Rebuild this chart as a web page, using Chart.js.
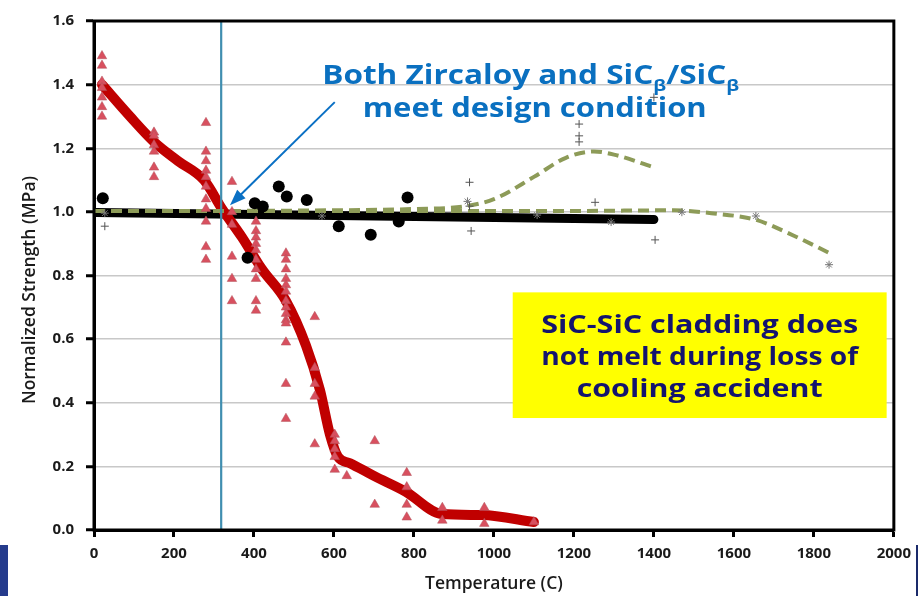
<!DOCTYPE html>
<html>
<head>
<meta charset="utf-8">
<script src="https://cdn.jsdelivr.net/npm/chart.js@4.4.0/dist/chart.umd.min.js"></script>
<style>
  html, body { margin: 0; padding: 0; background: #fff; }
  #wrap { width: 919px; height: 596px; position: relative; }
</style>
</head>
<body>
<div id="wrap"><canvas id="chart" width="919" height="596"></canvas></div>
<script>
// ========== Normalized strength vs temperature ==========

// ── Zircaloy test data (red triangles) ──
var triTemp = [
  20, 20, 20, 20, 20, 20, 20,
  150, 150, 150, 150, 150, 150,
  280, 280, 280, 280, 280, 280, 280, 280, 280, 280, 280,
  345, 345, 345, 345, 345, 345,
  405, 405, 405, 405, 405, 405, 405, 405, 405, 405,
  480, 480, 480, 480, 480, 480, 480, 480, 480, 480, 480, 480, 480, 480,
  552, 552, 552, 552, 552,
  602, 602, 602, 602, 602,
  632, 702, 702,
  782, 782, 782, 782,
  871, 871, 976, 976, 1100
];
var triStrength = [
  1.49, 1.46, 1.41, 1.39, 1.36, 1.33, 1.30,
  1.25, 1.24, 1.21, 1.19, 1.14, 1.11,
  1.28, 1.19, 1.16, 1.13, 1.11, 1.08, 1.04, 1.01, 0.97, 0.89, 0.85,
  1.095, 1.00, 0.96, 0.86, 0.79, 0.72,
  0.97, 0.94, 0.92, 0.90, 0.88, 0.85, 0.82, 0.79, 0.72, 0.69,
  0.87, 0.85, 0.82, 0.79, 0.77, 0.75, 0.72, 0.70, 0.68, 0.66, 0.65, 0.59, 0.46, 0.35,
  0.67, 0.51, 0.46, 0.42, 0.27,
  0.30, 0.28, 0.255, 0.23, 0.19,
  0.17, 0.28, 0.08,
  0.18, 0.135, 0.08, 0.04,
  0.07, 0.03, 0.07, 0.02, 0.025
];

// ── Zircaloy trend (thick red) ──
var zrTemp     = [20, 90, 150, 210, 275, 320, 370, 420, 480, 530, 565, 590, 610, 640, 700, 780, 870, 970, 1100];
var zrStrength = [1.40, 1.30, 1.22, 1.16, 1.10, 1.01, 0.92, 0.82, 0.72, 0.58, 0.44, 0.30, 0.23, 0.21, 0.17, 0.12, 0.05, 0.047, 0.025];

// ── SiC/SiC data (black circles) ──
var sicTemp     = [22, 384, 402, 422, 462, 482, 532, 612, 692, 762, 784];
var sicStrength = [1.043, 0.856, 1.027, 1.017, 1.08, 1.048, 1.037, 0.955, 0.928, 0.97, 1.045];

// ── SiC/SiC trend (thick black) ──
var sicLineTemp     = [5, 1400];
var sicLineStrength = [0.998, 0.976];

// ── Other composites (grey + and *) ──
var plusTemp     = [27, 939, 939, 943, 1213, 1213, 1213, 1253, 1403, 1400];
var plusStrength = [0.955, 1.093, 1.018, 0.94, 1.276, 1.239, 1.22, 1.03, 0.912, 1.36];
var starTemp     = [27, 570, 934, 1108, 1293, 1470, 1655, 1838];
var starStrength = [0.996, 0.987, 1.033, 0.99, 0.968, 0.999, 0.987, 0.834];

// ── Dashed trends (olive) ──
var peakTemp     = [0, 300, 600, 800, 930, 1000, 1100, 1180, 1250, 1300, 1400];
var peakStrength = [1.003, 1.003, 1.005, 1.009, 1.018, 1.04, 1.11, 1.17, 1.19, 1.18, 1.14];
var dropTemp     = [0, 400, 800, 1200, 1450, 1550, 1655, 1750, 1840];
var dropStrength = [1.003, 1.003, 1.003, 1.003, 1.005, 0.995, 0.975, 0.925, 0.87];

// ── Axis ticks ──
var xTicks = [0, 200, 400, 600, 800, 1000, 1200, 1400, 1600, 1800, 2000];
var yTicks = [0.0, 0.2, 0.4, 0.6, 0.8, 1.0, 1.2, 1.4, 1.6];

// ── Annotations (data units) ──
var designTemp = 318;
var arrowFrom = [602, 1.345];
var arrowTo = [340, 1.021];
var noteBox = [1047, 1982, 0.747, 0.352];

function pairs(xs, ys) {
  return xs.map(function(x, i) { return { x: x, y: ys[i] }; });
}

// ── 注释绘制 ──
// draws runs of text centred on cx, stretched horizontally to "width"
function drawRuns(ctx, runs, cx, baseY, size, width) {
  var total = 0;
  runs.forEach(function(r) {
    ctx.font = '700 ' + (r.sub ? size * 0.62 : size) + 'px "Open Sans"';
    r.w = ctx.measureText(r.t).width;
    total += r.w;
  });
  var sx = width / total;
  ctx.save();
  ctx.translate(cx - width / 2, baseY);
  ctx.scale(sx, 1);
  var x = 0;
  runs.forEach(function(r) {
    ctx.font = '700 ' + (r.sub ? size * 0.62 : size) + 'px "Open Sans"';
    ctx.fillText(r.t, x, r.sub ? size * 0.28 : 0);
    x += r.w;
  });
  ctx.restore();
}

var annotate = {
  id: 'annotate',
  afterDatasetsDraw: function(chart) {
    var ctx = chart.ctx, xs = chart.scales.x, ys = chart.scales.y, a = chart.chartArea;
    ctx.save();

    // design temperature line
    var vx = xs.getPixelForValue(designTemp);
    ctx.strokeStyle = '#408eb0';
    ctx.lineWidth = 2.2;
    ctx.beginPath(); ctx.moveTo(vx, a.top); ctx.lineTo(vx, a.bottom); ctx.stroke();

    // frame
    ctx.strokeStyle = '#000';
    ctx.lineWidth = 3;
    ctx.strokeRect(a.left, a.top, a.right - a.left, a.bottom - a.top);

    // arrow
    var x1 = xs.getPixelForValue(arrowFrom[0]), y1 = ys.getPixelForValue(arrowFrom[1]);
    var x2 = xs.getPixelForValue(arrowTo[0]), y2 = ys.getPixelForValue(arrowTo[1]);
    var ang = Math.atan2(y2 - y1, x2 - x1);
    ctx.strokeStyle = '#0a70c4';
    ctx.fillStyle = '#0a70c4';
    ctx.lineWidth = 2;
    ctx.beginPath();
    ctx.moveTo(x1, y1);
    ctx.lineTo(x2 - 10 * Math.cos(ang), y2 - 10 * Math.sin(ang));
    ctx.stroke();
    ctx.beginPath();
    ctx.moveTo(x2, y2);
    ctx.lineTo(x2 - 16 * Math.cos(ang) + 6 * Math.sin(ang), y2 - 16 * Math.sin(ang) - 6 * Math.cos(ang));
    ctx.lineTo(x2 - 16 * Math.cos(ang) - 6 * Math.sin(ang), y2 - 16 * Math.sin(ang) + 6 * Math.cos(ang));
    ctx.closePath(); ctx.fill();

    // blue heading
    ctx.fillStyle = '#0a70c0';
    ctx.textAlign = 'left';
    ctx.textBaseline = 'alphabetic';
    drawRuns(ctx, [
      { t: 'Both Zircaloy and SiC' }, { t: 'β', sub: true },
      { t: '/SiC' }, { t: 'β', sub: true }
    ], xs.getPixelForValue(1092), 84, 26, 417);
    drawRuns(ctx, [{ t: 'meet design condition' }], xs.getPixelForValue(1102), 117, 26, 344);

    // yellow note
    var bx1 = xs.getPixelForValue(noteBox[0]), bx2 = xs.getPixelForValue(noteBox[1]);
    var by1 = ys.getPixelForValue(noteBox[2]), by2 = ys.getPixelForValue(noteBox[3]);
    ctx.fillStyle = '#ffff00';
    ctx.fillRect(bx1, by1, bx2 - bx1, by2 - by1);
    ctx.fillStyle = '#14146e';
    var cx = (bx1 + bx2) / 2;
    drawRuns(ctx, [{ t: 'SiC-SiC cladding does' }], cx, by1 + 41, 24.5, 317);
    drawRuns(ctx, [{ t: 'not melt during loss of' }], cx, by1 + 73, 24.5, 317);
    drawRuns(ctx, [{ t: 'cooling accident' }], cx, by1 + 105, 24.5, 246);

    // y axis title
    ctx.save();
    ctx.translate(30, 290);
    ctx.rotate(-Math.PI / 2);
    ctx.fillStyle = '#1a1a1a';
    ctx.textAlign = 'center';
    ctx.textBaseline = 'middle';
    ctx.font = '600 17.5px "Open Sans"';
    ctx.fillText('Normalized Strength (MPa)', 0, 0);
    ctx.restore();

    // slide edges
    ctx.fillStyle = '#253b8c';
    ctx.fillRect(0, 545, 8, 51);
    ctx.strokeStyle = '#1a2a6a';
    ctx.lineWidth = 2;
    ctx.beginPath(); ctx.moveTo(917, 545); ctx.lineTo(917, 596); ctx.stroke();
    ctx.restore();
  }
};

// ── 图表 ──
var ctx = document.getElementById('chart').getContext('2d');
new Chart(ctx, {
  type: 'scatter',
  data: {
    datasets: [
      { label: 'plus', data: pairs(plusTemp, plusStrength), pointStyle: 'cross',
        pointRadius: 4, borderColor: '#555', borderWidth: 1, showLine: false },
      { label: 'star', data: pairs(starTemp, starStrength), pointStyle: 'star',
        pointRadius: 4, borderColor: '#777', borderWidth: 1, showLine: false },
      { label: 'SiC', data: pairs(sicTemp, sicStrength), pointStyle: 'circle',
        pointRadius: 6, backgroundColor: '#000', borderColor: '#000', borderWidth: 0, showLine: false },
      { label: 'Zry', data: pairs(triTemp, triStrength), pointStyle: 'triangle',
        pointRadius: 5.5, backgroundColor: '#d8505f', borderColor: '#b0505a', borderWidth: 0.5, showLine: false },
      { label: 'peak', data: pairs(peakTemp, peakStrength), showLine: true, pointRadius: 0,
        borderColor: '#8d9b58', borderWidth: 4, borderDash: [11, 6], cubicInterpolationMode: 'monotone' },
      { label: 'drop', data: pairs(dropTemp, dropStrength), showLine: true, pointRadius: 0,
        borderColor: '#8d9b58', borderWidth: 4, borderDash: [11, 6], cubicInterpolationMode: 'monotone' },
      { label: 'Zry trend', data: pairs(zrTemp, zrStrength), showLine: true, pointRadius: 0,
        borderColor: '#c00000', borderWidth: 10, borderCapStyle: 'round', borderJoinStyle: 'round',
        cubicInterpolationMode: 'monotone' },
      { label: 'SiC trend', data: pairs(sicLineTemp, sicLineStrength), showLine: true, pointRadius: 0,
        borderColor: '#000', borderWidth: 9, borderCapStyle: 'round' }
    ]
  },
  options: {
    responsive: false,
    animation: false,
    layout: { padding: { top: 16, right: 25, left: 0, bottom: 0 } },
    plugins: { legend: { display: false }, tooltip: { enabled: false } },
    scales: {
      x: {
        type: 'linear', min: 0, max: 2000,
        afterBuildTicks: function(s) { s.ticks = xTicks.map(function(v) { return { value: v }; }); },
        afterFit: function(s) { s.height = 66; },
        ticks: { color: '#1a1a1a', font: { family: 'Open Sans', size: 15, weight: '700' }, padding: 8,
                 callback: function(v) { return String(v); } },
        grid: { drawOnChartArea: false, tickLength: 7, tickWidth: 3, tickColor: '#000' },
        border: { color: '#000', width: 3 },
        title: { display: true, text: 'Temperature (C)', color: '#1a1a1a',
                 font: { family: 'Open Sans', size: 17.5, weight: '600' }, padding: { top: 0, bottom: 1 } }
      },
      y: {
        min: 0, max: 1.6,
        afterBuildTicks: function(s) { s.ticks = yTicks.map(function(v) { return { value: v }; }); },
        afterFit: function(s) { s.width = 94; },
        ticks: { color: '#1a1a1a', font: { family: 'Open Sans', size: 15, weight: '700' }, padding: 12,
                 callback: function(v) { return v.toFixed(1); } },
        grid: { color: '#c8c8c8', lineWidth: 1.5, tickLength: 8, tickWidth: 3, tickColor: '#000' },
        border: { color: '#000', width: 3 }
      }
    }
  },
  plugins: [annotate]
});
</script>
</body>
</html>
